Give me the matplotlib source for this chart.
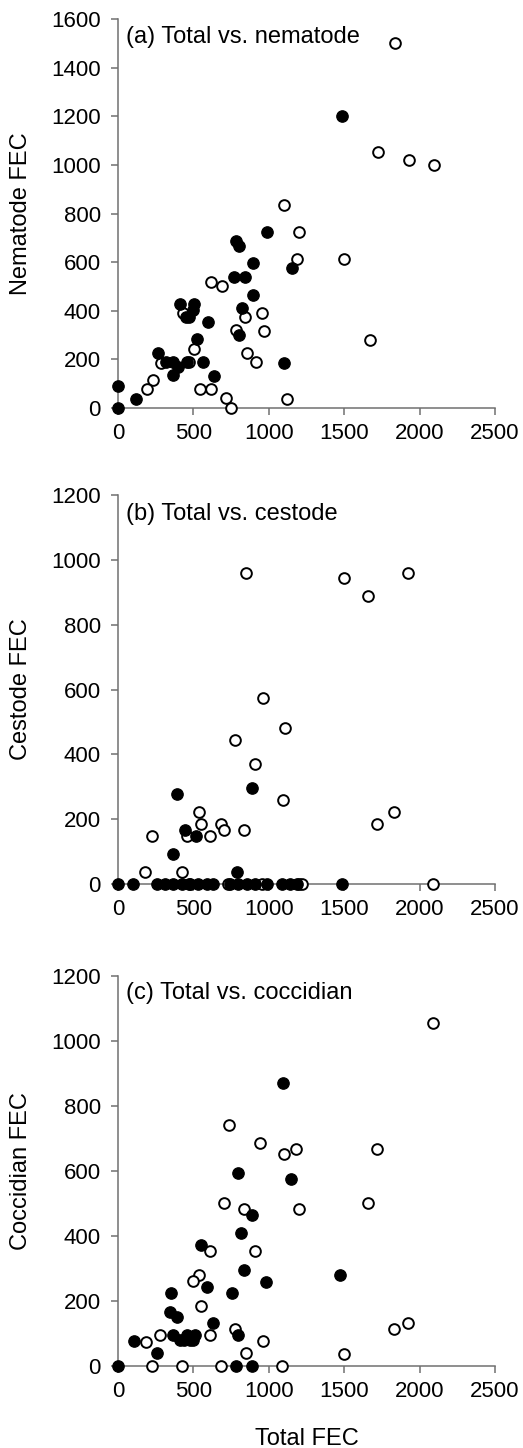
import matplotlib
matplotlib.use("Agg")
import matplotlib.pyplot as plt

plt.rcParams['font.family'] = ['Liberation Sans', 'DejaVu Sans']

# ---------------- data ----------------
# Panel (a): Total FEC vs nematode FEC
a_open_x = [1840, 1725, 1930, 2095, 1100, 1200, 1190, 1500, 1670, 620, 688, 953, 968,
            782, 842, 857, 915, 504, 433, 283, 234, 190, 544, 617, 714, 747, 1118, 470]
a_open_y = [1500, 1055, 1020, 1000, 835, 725, 612, 612, 280, 520, 503, 392, 318,
            321, 373, 225, 188, 243, 390, 186, 115, 77, 77, 77, 40, 0, 37, 188]
a_fill_x = [1485, 985, 780, 800, 897, 767, 844, 897, 822, 804, 1151, 1098, 411, 506,
            499, 451, 473, 599, 526, 267, 320, 367, 455, 562, 400, 363, 637, 117, 0, 0]
a_fill_y = [1200, 725, 688, 668, 595, 540, 540, 464, 410, 300, 574, 186, 428, 428,
            403, 376, 376, 355, 283, 228, 190, 190, 190, 190, 170, 136, 132, 37, 92, 0]

# Panel (b): Total FEC vs cestode FEC
b_open_x = [851, 1496, 1660, 1923, 223, 181, 422, 455, 535, 552, 610, 683, 703, 835,
            778, 961, 906, 1107, 1092, 1717, 1832, 2091, 470, 730, 955, 1200, 1222]
b_open_y = [960, 943, 887, 960, 149, 38, 38, 149, 222, 186, 149, 186, 168, 168,
            445, 575, 370, 482, 259, 186, 222, 0, 0, 0, 0, 0, 0]
b_fill_x = [391, 365, 444, 517, 886, 791, 0, 100, 256, 311, 365, 422, 478, 530, 588,
            632, 742, 796, 855, 908, 988, 1085, 1140, 1185, 1483]
b_fill_y = [278, 93, 168, 147, 297, 38, 0, 0, 0, 0, 0, 0, 0, 0, 0,
            0, 0, 0, 0, 0, 0, 0, 0, 0, 0]

# Panel (c): Total FEC vs coccidian FEC
c_open_x = [2091, 738, 941, 1103, 1182, 1717, 703, 833, 1200, 1660, 610, 906, 537, 497,
            552, 278, 186, 610, 776, 961, 849, 1496, 1830, 1923, 223, 422, 685, 1090]
c_open_y = [1054, 742, 686, 651, 668, 668, 501, 484, 484, 501, 353, 353, 279, 261,
            186, 95, 75, 95, 113, 76, 41, 38, 113, 132, 0, 0, 0, 0]
c_fill_x = [1092, 796, 1145, 888, 813, 552, 833, 979, 1474, 592, 351, 756, 345, 389,
            628, 106, 257, 794, 367, 411, 455, 499, 510, 440, 480, 0, 780, 891]
c_fill_y = [870, 594, 576, 464, 408, 371, 296, 259, 279, 244, 225, 225, 167, 150,
            133, 76, 41, 95, 95, 80, 95, 80, 95, 80, 80, 0, 0, 0]

panel_titles = ["(a) Total vs. nematode", "(b) Total vs. cestode", "(c) Total vs. coccidian"]
y_labels = ["Nematode FEC", "Cestode FEC", "Coccidian FEC"]
x_label = "Total FEC"
x_ticks = [0, 500, 1000, 1500, 2000, 2500]
y_ticks_list = [[0, 200, 400, 600, 800, 1000, 1200, 1400, 1600],
                [0, 200, 400, 600, 800, 1000, 1200],
                [0, 200, 400, 600, 800, 1000, 1200]]

panels = [(a_open_x, a_open_y, a_fill_x, a_fill_y),
          (b_open_x, b_open_y, b_fill_x, b_fill_y),
          (c_open_x, c_open_y, c_fill_x, c_fill_y)]

# ---------------- figure ----------------
W, H = 523, 1448
fig = plt.figure(figsize=(W / 100, H / 100), dpi=100)
left = 118 / W
width = 377 / W
rects = [(left, 1 - 408 / H, width, 389 / H),
         (left, 1 - 884 / H, width, 389 / H),
         (left, 1 - 1366 / H, width, 390 / H)]
title_y = [0.954, 0.951, 0.956]

spine_col = '#707070'
for i, (rect, data) in enumerate(zip(rects, panels)):
    ox, oy, fx, fy = data
    ax = fig.add_axes(rect)
    ax.plot(ox, oy, linestyle='none', marker='o', markersize=7.7,
            markerfacecolor='white', markeredgecolor='black', markeredgewidth=1.4,
            clip_on=False, zorder=3)
    ax.plot(fx, fy, linestyle='none', marker='o', markersize=8.2,
            markerfacecolor='black', markeredgecolor='black', markeredgewidth=0.9,
            clip_on=False, zorder=4)
    yt = y_ticks_list[i]
    ax.set_xlim(0, 2500)
    ax.set_ylim(0, yt[-1])
    ax.set_xticks(x_ticks)
    ax.set_yticks(yt)
    for s in ['top', 'right']:
        ax.spines[s].set_visible(False)
    for s in ['left', 'bottom']:
        ax.spines[s].set_color(spine_col)
        ax.spines[s].set_linewidth(1.1)
    ax.tick_params(axis='both', direction='out', length=5, width=1.1,
                   color=spine_col, labelsize=16, labelcolor='black')
    ax.tick_params(axis='x', pad=5.5)
    ax.tick_params(axis='y', pad=7.5)
    ax.set_ylabel(y_labels[i], fontsize=17)
    ax.yaxis.set_label_coords(-0.228, 0.5)
    ax.text(0.02, title_y[i], panel_titles[i], transform=ax.transAxes,
            ha='left', va='center', fontsize=17)
    if i == 2:
        ax.set_xlabel(x_label, fontsize=17)
        ax.xaxis.set_label_coords(0.5, -0.159)

fig.savefig("out.png", dpi=100)
